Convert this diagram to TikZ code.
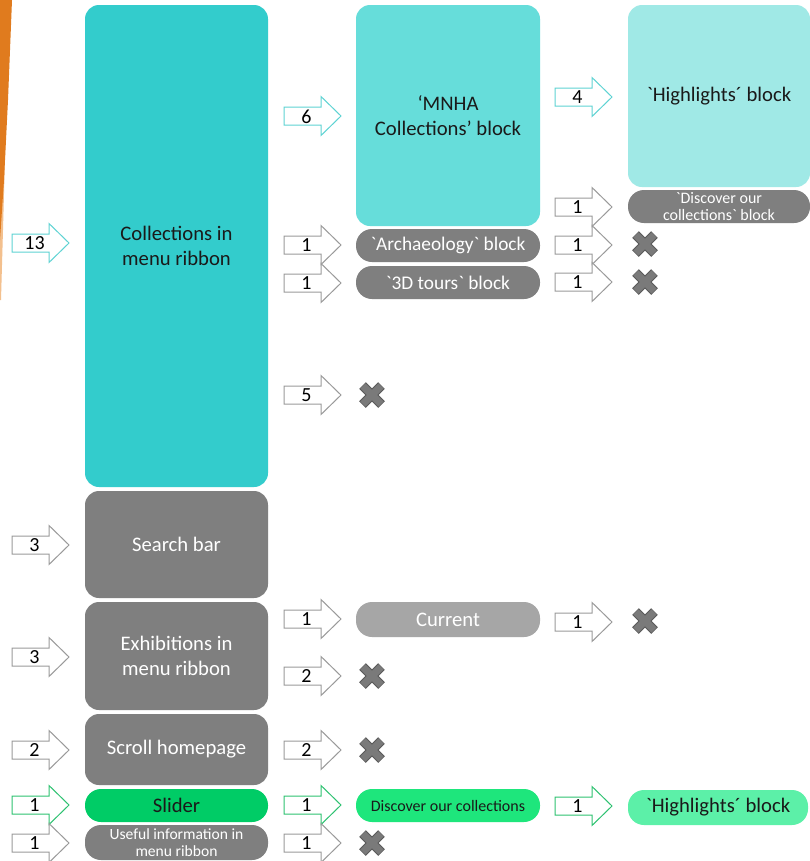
\documentclass[tikz,border=0pt]{standalone}
\usepackage{fontspec}
\setmainfont{Carlito}
\definecolor{tealA}{HTML}{33CCCC}
\definecolor{tealB}{HTML}{66DDDA}
\definecolor{tealC}{HTML}{A0E9E6}
\definecolor{greyA}{HTML}{7F7F7F}
\definecolor{greyB}{HTML}{A6A6A6}
\definecolor{greenA}{HTML}{00CC66}
\definecolor{greenB}{HTML}{1EE67C}
\definecolor{greenC}{HTML}{5CF0A8}
\definecolor{arrTeal}{HTML}{5ED3D3}
\definecolor{arrGrey}{HTML}{9A9A9A}
\definecolor{arrGreen}{HTML}{2EC271}
\definecolor{xFill}{HTML}{7A7A7A}
\definecolor{xEdge}{HTML}{5A5A5A}
\definecolor{orangeS}{HTML}{E07B1E}
\definecolor{orangeL}{HTML}{F3C08E}
\definecolor{txt}{HTML}{1A1A1A}
\tikzset{
  blk/.style={rectangle, rounded corners=10.5pt, inner sep=2pt, align=center, text=txt,
    font=\fontsize{15.5}{19}\selectfont},
  pill/.style={rectangle, rounded corners=12pt, inner sep=0pt, align=center, text=txt,
    font=\fontsize{15.5}{16}\selectfont},
  num/.style={inner sep=0pt, font=\fontsize{15}{15}\selectfont, text=black},
  xmark/.style={minimum size=21pt, inner sep=0pt, path picture={
    \draw[xEdge, line width=7pt]
      ([shift={(-9.5,-9.5)}]path picture bounding box.center) -- ([shift={(9.5,9.5)}]path picture bounding box.center)
      ([shift={(-9.5,9.5)}]path picture bounding box.center) -- ([shift={(9.5,-9.5)}]path picture bounding box.center);
    \draw[xFill, line width=5.4pt]
      ([shift={(-9.1,-9.1)}]path picture bounding box.center) -- ([shift={(9.1,9.1)}]path picture bounding box.center)
      ([shift={(-9.1,9.1)}]path picture bounding box.center) -- ([shift={(9.1,-9.1)}]path picture bounding box.center);
  }},
  arrowbox/.style={fill=white, line width=0.75pt, line join=miter}
}
\newcommand\blkarrow[5]{%
  \draw[arrowbox, draw=#5] (#2,#3-9) -- ++(37,0) -- ++(0,-10.5) -- ++(20,19.5) -- ++(-20,19.5) -- ++(0,-10.5) -- ++(-37,0) -- cycle;
  \node[num] (#1) at (#2+22.5,#3+0.5) {#4};
}
\begin{document}
\begin{tikzpicture}[x=0.75pt,y=-0.75pt]
\fill[white] (0,0) rectangle (810,861);
\useasboundingbox (0,0) rectangle (810,861);
\fill[orangeL] (0,120) -- (6,120) -- (3,230) -- (1,300) -- (0,300) -- cycle;
\fill[orangeS] (0,0) -- (12,0) -- (8,100) -- (4,180) -- (0,240) -- cycle;

% column 1
\node[blk, fill=tealA, minimum width=137.25pt, minimum height=361.5pt] (coll) at (176.5,246) {Collections in\\menu ribbon};
\node[blk, fill=greyA, text=white, minimum width=137.25pt, minimum height=80.25pt] (search) at (176.5,544.5) {Search bar};
\node[blk, fill=greyA, text=white, minimum width=137.25pt, minimum height=81pt] (exhib) at (176.5,656) {Exhibitions in\\menu ribbon};
\node[blk, fill=greyA, text=white, minimum width=137.25pt, minimum height=53.25pt] (scroll) at (176.5,749.5) {Scroll homepage};
\node[pill, fill=greenA, minimum width=137.25pt, minimum height=24.75pt] (slider) at (176.5,805.5) {Slider};
\node[pill, fill=greyA, text=white, minimum width=137.25pt, minimum height=26.25pt, font=\fontsize{11.7}{13}\selectfont] (useful) at (176.5,842.5) {Useful information in\\menu ribbon};

% column 2
\node[blk, fill=tealB, minimum width=138pt, minimum height=165.75pt] (mnha) at (448,115.5) {‘MNHA\\Collections’ block};
\node[pill, fill=greyA, text=white, minimum width=138pt, minimum height=24.75pt, font=\fontsize{14.5}{15}\selectfont] (arch) at (448,245.5) {\textasciigrave Archaeology\textasciigrave{} block};
\node[pill, fill=greyA, text=white, minimum width=138pt, minimum height=24.75pt, font=\fontsize{14.5}{15}\selectfont] (tours) at (448,282.5) {\textasciigrave 3D tours\textasciigrave{} block};
\node[pill, fill=greyB, text=white, minimum width=138pt, minimum height=26.25pt] (current) at (448,619.5) {Current};
\node[pill, fill=greenB, minimum width=138pt, minimum height=24.75pt, font=\fontsize{12}{13}\selectfont] (disc) at (448,805.5) {Discover our collections};

% column 3
\node[blk, fill=tealC, minimum width=136.5pt, minimum height=136.5pt] (high) at (719,96) {\textasciigrave Highlights´ block};
\node[pill, fill=greyA, text=white, minimum width=136.5pt, minimum height=24.75pt, font=\fontsize{12}{12.5}\selectfont] (discblk) at (719,206.5) {\textasciigrave Discover our\\collections\textasciigrave{} block};
\node[pill, fill=greenC, minimum width=135pt, minimum height=26.25pt] (high2) at (718,807.5) {\textasciigrave Highlights´ block};

% block arrows
\blkarrow{a13}{12}{243}{13}{arrTeal}
\blkarrow{a6}{284}{116}{6}{arrTeal}
\blkarrow{a4}{555}{97}{4}{arrTeal}
\blkarrow{a1d}{555}{207}{1}{arrGrey}
\blkarrow{a1ar}{284}{245}{1}{arrGrey}
\blkarrow{a1arx}{555}{245}{1}{arrGrey}
\blkarrow{a1tr}{284}{283}{1}{arrGrey}
\blkarrow{a1trx}{555}{282}{1}{arrGrey}
\blkarrow{a5}{284}{395}{5}{arrGrey}
\blkarrow{a3s}{12}{545}{3}{arrGrey}
\blkarrow{a3e}{12}{657}{3}{arrGrey}
\blkarrow{a1c}{284}{619}{1}{arrGrey}
\blkarrow{a1cx}{555}{622}{1}{arrGrey}
\blkarrow{a2e}{284}{676}{2}{arrGrey}
\blkarrow{a2sl}{12}{750}{2}{arrGrey}
\blkarrow{a2sr}{284}{750}{2}{arrGrey}
\blkarrow{a1sl}{12}{805}{1}{arrGreen}
\blkarrow{a1sr}{284}{805}{1}{arrGreen}
\blkarrow{a1dh}{555}{806}{1}{arrGreen}
\blkarrow{a1ul}{12}{843}{1}{arrGrey}
\blkarrow{a1ur}{284}{843}{1}{arrGrey}

% crosses
\node[xmark] (x1) at (645,244) {};
\node[xmark] (x2) at (645,282) {};
\node[xmark] (x3) at (372,395) {};
\node[xmark] (x4) at (645,621) {};
\node[xmark] (x5) at (372,676) {};
\node[xmark] (x6) at (372,750) {};
\node[xmark] (x7) at (372,843) {};
\end{tikzpicture}
\end{document}
